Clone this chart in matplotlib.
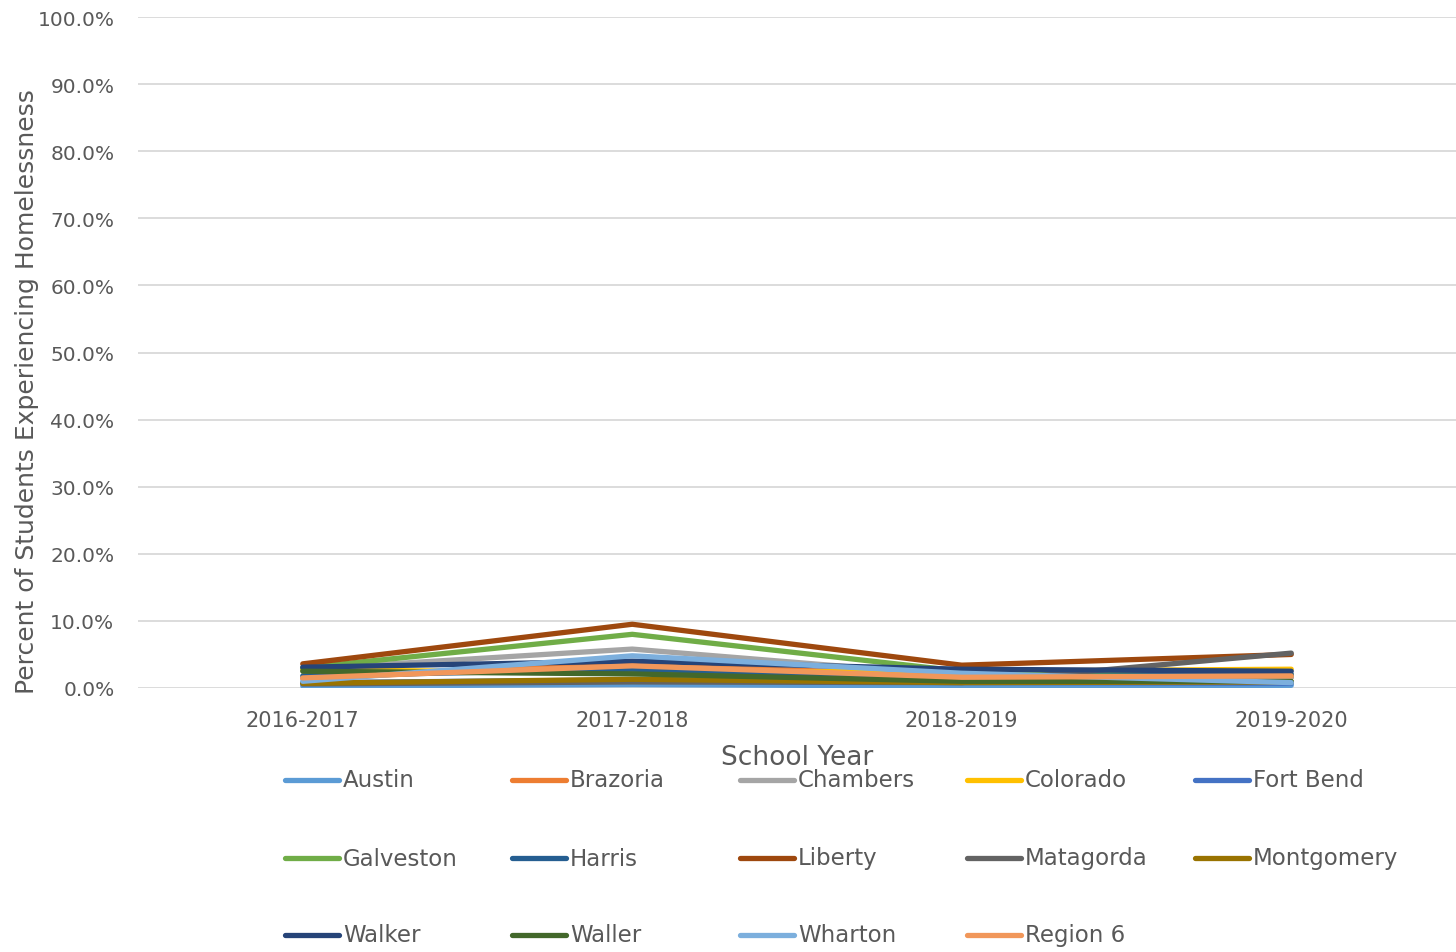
import matplotlib.pyplot as plt
from matplotlib.lines import Line2D

# School years on the x axis
years = ["2016-2017", "2017-2018", "2018-2019", "2019-2020"]

# Percent of students experiencing homelessness, by county
austin = [0.3, 0.5, 0.3, 0.4]
brazoria = [1.4, 3.6, 1.7, 1.6]
chambers = [2.8, 5.8, 1.8, 1.6]
colorado = [2.7, 2.3, 2.5, 2.8]
fort_bend = [0.8, 1.2, 0.8, 0.7]
galveston = [3.0, 8.0, 2.5, 2.0]
harris = [1.8, 2.8, 1.6, 2.0]
liberty = [3.6, 9.5, 3.4, 5.0]
matagorda = [0.6, 0.9, 0.8, 5.2]
montgomery = [0.7, 1.3, 0.8, 0.9]
walker = [3.1, 4.0, 2.8, 2.5]
waller = [2.5, 2.1, 1.0, 1.0]
wharton = [1.0, 4.8, 2.2, 0.8]
region6 = [1.5, 3.3, 1.6, 1.8]

names = ["Austin", "Brazoria", "Chambers", "Colorado", "Fort Bend",
         "Galveston", "Harris", "Liberty", "Matagorda", "Montgomery",
         "Walker", "Waller", "Wharton", "Region 6"]
series = [austin, brazoria, chambers, colorado, fort_bend, galveston, harris,
          liberty, matagorda, montgomery, walker, waller, wharton, region6]
colors = ["#5B9BD5", "#ED7D31", "#A5A5A5", "#FFC000", "#4472C4", "#70AD47",
          "#255E91", "#9E480E", "#636363", "#997300", "#264478", "#43682B",
          "#7CAFDD", "#F1975A"]

plt.rcParams['font.family'] = ['DejaVu Sans']
TXT = "#595959"

fig = plt.figure(figsize=(14.56, 9.53), dpi=100)
ax = fig.add_axes([138/1456, 1-689/953, 1-138/1456, (689-18)/953])

x = list(range(len(years)))
for vals, c in zip(series, colors):
    ax.plot(x, vals, color=c, lw=3.8, solid_capstyle='round', solid_joinstyle='round')

ax.set_xlim(-0.5, 3.5)
ax.set_ylim(0, 100)
ax.set_yticks(range(0, 101, 10))
ax.set_yticklabels([f"{v:.1f}%" for v in range(0, 101, 10)])
ax.set_xticks(x)
ax.set_xticklabels(years)
ax.tick_params(length=0, colors=TXT)
ax.tick_params(axis='x', pad=16, labelsize=15)
ax.tick_params(axis='y', pad=17, labelsize=14.5)
ax.grid(axis='y', color="#d9d9d9", lw=1.3)
ax.set_axisbelow(True)
for s in ax.spines.values():
    s.set_visible(False)

fig.text(27/1456, 1-392/953, "Percent of Students Experiencing Homelessness",
         rotation=90, ha='center', va='center', fontsize=18, color=TXT)
fig.text(797/1456, 1-758/953, "School Year", ha='center', va='center',
         fontsize=19, color=TXT)

# legend, 5 columns with fixed spacing
col_x = [285, 512, 740, 967, 1195]
row_y = [781, 859, 936]
for i, (name, c) in enumerate(zip(names, colors)):
    cx = col_x[i % 5]
    cy = row_y[i // 5]
    fig.add_artist(Line2D([cx/1456, (cx+54)/1456], [1-cy/953, 1-cy/953],
                          color=c, lw=3.8, solid_capstyle='round'))
    fig.text((cx+58)/1456, 1-cy/953, name, ha='left', va='center',
             fontsize=16.5, color=TXT)

fig.savefig("out.png", dpi=100)
